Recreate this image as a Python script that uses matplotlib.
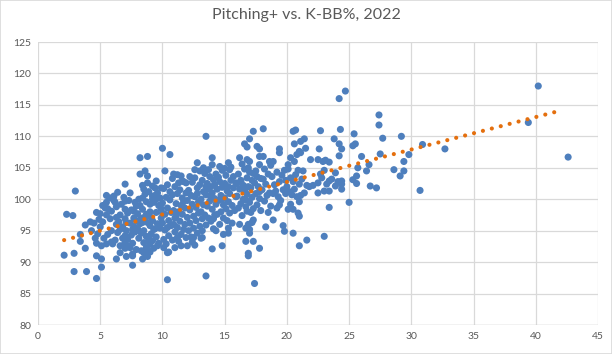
import matplotlib
matplotlib.use("Agg")
import matplotlib.pyplot as plt
from matplotlib.patches import Rectangle

plt.rcParams['font.family'] = ['Lato', 'DejaVu Sans']

# --- data: (K-BB%, Pitching+) ---
outlier_kbb = [2.1, 2.3, 2.8, 3.0, 2.9, 2.9, 3.9, 4.7, 3.4, 3.4, 3.8, 3.8, 4.2, 4.7, 4.7, 5.1, 5.1, 4.6, 4.7, 5.0,
               4.9, 5.5, 5.1, 5.5, 5.9, 5.5, 5.6, 5.4, 6.1, 6.2, 6.4, 6.3, 6.3, 6.3, 6.6, 6.6, 7.0, 7.0, 7.0, 7.1,
               7.0, 7.0, 7.0, 7.4, 7.6, 7.6, 7.6, 7.7, 7.9, 8.2, 8.8, 8.2, 8.4, 8.5, 8.8, 8.8, 8.4, 8.5, 8.7, 8.8,
               9.0, 8.4, 8.7, 9.0, 9.2, 9.5, 9.4, 9.3, 9.2, 10.0, 10.6, 10.1, 10.4, 10.4, 11.0, 11.2, 11.5, 11.6, 11.9, 12.0,
               12.5, 12.6, 12.8, 13.5, 13.5, 14.0, 14.0, 14.0, 14.8, 13.1, 13.2, 14.1, 15.3, 15.4, 15.3, 15.3, 16.2, 16.6, 16.8, 17.0,
               17.3, 18.1, 17.6, 17.8, 16.8, 17.8, 17.8, 18.6, 18.9, 18.1, 19.4, 19.4, 17.3, 16.7, 16.8, 16.9, 17.2, 17.0, 17.0, 16.7,
               17.3, 16.9, 16.9, 17.4, 17.8, 18.9, 19.7, 19.8, 20.5, 20.1, 20.5, 20.9, 21.0, 21.0, 21.6, 19.4, 20.1, 20.3, 20.5, 20.7,
               20.6, 21.1, 21.4, 21.5, 21.1, 20.8, 21.9, 20.9, 21.1, 21.0, 21.8, 22.6, 22.7, 22.5, 22.9, 22.5, 23.0, 23.4, 23.0, 23.4,
               23.8, 24.2, 24.4, 24.2, 24.2, 24.7, 24.3, 23.4, 23.9, 24.4, 24.4, 24.4, 23.4, 25.0, 25.3, 25.5, 25.4, 25.3, 25.6, 25.6,
               25.7, 26.4, 26.6, 26.0, 26.7, 27.2, 27.4, 27.4, 27.7, 27.5, 28.6, 29.1, 29.4, 29.4, 29.8, 29.2, 30.7, 30.9, 32.7, 39.4,
               40.2, 42.6]
outlier_pitch = [91.1, 97.6, 97.4, 101.3, 91.4, 88.5, 88.5, 87.4, 94.4, 93.3, 92.2, 95.9, 96.4, 97.9, 91.0, 90.5, 89.2, 93.8, 93.0, 97.7,
                 96.8, 100.6, 92.6, 92.9, 93.2, 99.5, 98.5, 98.6, 100.5, 99.5, 101.1, 90.5, 97.1, 96.0, 95.2, 92.6, 102.4, 99.7, 98.4, 96.3,
                 94.2, 93.1, 92.2, 92.3, 95.2, 89.5, 91.3, 98.1, 98.9, 106.6, 106.8, 104.0, 100.2, 101.6, 103.7, 102.6, 90.5, 91.5, 92.3, 92.1,
                 92.9, 96.3, 97.6, 99.2, 100.0, 102.9, 101.8, 95.2, 93.4, 108.1, 107.1, 92.3, 91.5, 87.2, 92.3, 103.9, 103.7, 102.9, 102.6, 92.6,
                 93.9, 104.7, 105.8, 110.0, 87.8, 106.6, 105.5, 92.1, 92.6, 93.8, 95.0, 95.3, 105.8, 104.7, 95.4, 94.6, 106.6, 108.8, 108.3, 109.6,
                 110.8, 111.2, 108.4, 108.0, 106.3, 106.8, 105.5, 106.0, 106.0, 106.8, 108.0, 107.4, 104.1, 99.9, 98.1, 96.0, 96.3, 95.2, 94.6, 93.3,
                 93.3, 91.4, 91.0, 86.6, 92.2, 96.7, 95.8, 94.9, 94.6, 98.4, 98.4, 97.8, 97.3, 92.6, 93.5, 99.1, 105.5, 106.6, 110.8, 111.0,
                 108.8, 109.2, 109.6, 108.1, 107.4, 107.1, 106.3, 104.6, 100.6, 99.6, 102.0, 108.0, 110.9, 106.3, 106.0, 102.6, 101.3, 98.7, 94.1, 105.9,
                 109.6, 108.8, 108.0, 106.9, 116.0, 117.2, 111.1, 102.9, 102.1, 102.9, 101.6, 102.4, 101.3, 99.5, 108.5, 108.8, 110.4, 103.1, 103.7, 102.5,
                 105.0, 104.5, 105.5, 106.8, 102.1, 101.8, 113.4, 111.8, 109.7, 107.2, 104.7, 103.7, 104.5, 106.0, 107.1, 110.0, 101.4, 108.7, 108.0, 112.2,
                 118.0, 106.7]

core_kbb = [4.3, 4.5, 4.8, 5.0, 5.2, 5.3, 5.6, 5.8, 5.9, 5.5, 5.2, 5.8, 6.0, 5.9,
            6.2, 6.3, 6.4, 6.5, 6.6, 6.7, 6.8, 6.8, 6.9, 7.0, 7.1, 7.2, 7.2, 7.3, 7.3, 7.4, 7.5, 7.5, 7.6, 7.7,
            7.7, 7.8, 7.8, 7.9, 7.9, 6.1, 6.9, 7.4, 7.6, 6.6, 7.1,
            8.0, 8.0, 8.1, 8.1, 8.2, 8.2, 8.3, 8.3, 8.4, 8.4, 8.5, 8.5, 8.6, 8.6, 8.7, 8.7, 8.8, 8.8, 8.9, 8.9,
            9.0, 9.0, 9.1, 9.1, 9.2, 9.2, 9.3, 9.3, 9.4, 9.4, 9.5, 9.5, 9.6, 9.6, 9.7, 9.7, 9.8, 9.8, 9.9, 9.9,
            9.6, 9.0, 8.6, 9.9, 9.5, 8.3, 9.2,
            10.0, 10.0, 10.1, 10.1, 10.2, 10.2, 10.3, 10.3, 10.4, 10.4, 10.5, 10.5, 10.6, 10.6, 10.7, 10.7, 10.8, 10.8,
            10.9, 10.9, 11.0, 11.0, 11.1, 11.1, 11.2, 11.2, 11.3, 11.3, 11.4, 11.4, 11.5, 11.5, 11.6, 11.6, 11.7, 11.7,
            11.8, 11.8, 11.9, 11.9, 10.2, 10.8, 11.3, 10.5, 11.5, 10.0, 11.0, 11.7, 10.4, 11.2, 10.9,
            12.0, 12.0, 12.1, 12.1, 12.2, 12.2, 12.3, 12.3, 12.4, 12.4, 12.5, 12.5, 12.6, 12.6, 12.7, 12.7, 12.8, 12.8,
            12.9, 12.9, 13.0, 13.0, 13.1, 13.1, 13.2, 13.2, 13.3, 13.3, 13.4, 13.4, 13.5, 13.5, 13.6, 13.6, 13.7, 13.7,
            13.8, 13.8, 13.9, 13.9, 12.4, 13.2, 13.0, 13.7, 12.8, 13.5, 12.2, 13.9, 13.3, 12.6,
            14.0, 14.0, 14.1, 14.1, 14.2, 14.2, 14.3, 14.3, 14.4, 14.4, 14.5, 14.5, 14.6, 14.6, 14.7, 14.7, 14.8, 14.8,
            14.9, 14.9, 15.0, 15.0, 15.1, 15.1, 15.2, 15.2, 15.3, 15.3, 15.4, 15.4, 15.5, 15.6, 15.7, 15.8, 15.9, 15.9,
            14.3, 14.9, 15.6, 14.6, 15.0, 15.5, 14.2, 15.7, 14.8,
            16.0, 16.0, 16.1, 16.1, 16.2, 16.3, 16.3, 16.4, 16.5, 16.5, 16.6, 16.6, 16.7, 16.8, 16.8, 16.9, 17.0, 17.0,
            17.1, 17.1, 17.2, 17.2, 17.3, 17.4, 17.5, 17.5, 17.6, 17.7, 17.8, 17.9, 17.9, 16.2, 16.7, 17.3, 16.4, 17.0,
            17.6, 16.9, 16.3, 17.8,
            18.0, 18.1, 18.2, 18.3, 18.4, 18.5, 18.6, 18.7, 18.8, 18.9, 19.0, 19.1, 19.2, 19.3, 19.4, 19.5, 19.6, 19.7,
            19.8, 19.9, 18.2, 18.7, 19.2, 18.5, 19.9, 18.3,
            20.0, 20.1, 20.2, 20.3, 20.4, 20.5, 20.6, 20.7, 20.8, 21.0, 21.2, 21.4, 20.3, 20.6, 21.3, 21.0, 21.6,
            22.1, 22.5, 22.8, 23.0, 23.2, 23.6, 23.9, 24.1, 23.1, 22.7]
core_pitch = [95.0, 96.2, 94.5, 95.6, 96.4, 93.8, 94.4, 96.9, 98.1, 97.5, 99.0, 100.2, 92.9, 95.0,
              93.5, 98.8, 94.7, 96.4, 97.5, 99.2, 95.6, 93.8, 92.7, 96.9, 95.0, 97.8, 93.6, 99.8, 92.5, 96.2, 94.3, 98.3, 93.0, 95.7,
              97.0, 99.5, 94.8, 92.0, 96.6, 99.8, 100.3, 101.0, 91.0, 91.5, 90.9,
              95.3, 97.7, 93.8, 100.0, 99.0, 96.1, 94.6, 91.8, 98.4, 102.2, 95.0, 93.1, 100.8, 97.2, 94.1, 99.6, 96.3, 90.9, 101.2, 93.7,
              95.8, 98.0, 97.1, 94.5, 102.1, 96.6, 99.5, 92.2, 100.6, 95.3, 97.9, 94.0, 101.0, 96.1, 99.0, 93.0, 100.2, 95.4, 98.5, 97.0,
              92.6, 91.6, 104.5, 101.8, 100.0, 97.0, 100.5,
              96.2, 99.4, 93.6, 101.7, 97.6, 95.1, 100.3, 92.9, 98.6, 102.3, 96.6, 94.2, 99.9, 101.2, 95.8, 97.9, 93.5, 100.7,
              98.2, 96.0, 102.0, 94.8, 99.3, 97.3, 100.9, 95.5, 98.0, 93.3, 101.5, 96.5, 99.0, 94.4, 97.6, 100.2, 95.2, 102.8,
              98.6, 96.0, 101.0, 93.9, 104.5, 103.3, 102.6, 91.6, 92.6, 97.8, 97.0, 99.6, 95.5, 93.9, 104.0,
              97.1, 99.8, 95.0, 101.4, 98.3, 96.2, 100.6, 94.0, 99.2, 102.7, 97.3, 95.4, 100.4, 103.4, 98.7, 96.6, 101.8, 94.6,
              99.6, 97.8, 102.3, 95.7, 100.0, 98.0, 103.0, 96.9, 101.2, 99.1, 97.5, 104.1, 100.7, 95.9, 102.5, 98.9, 101.6, 97.0,
              103.6, 99.7, 96.5, 102.0, 93.2, 93.9, 104.5, 104.7, 100.9, 102.0, 103.6, 100.4, 105.0, 92.7,
              101.0, 98.4, 103.1, 96.9, 100.1, 102.3, 99.2, 104.0, 97.6, 101.6, 103.5, 99.8, 96.0, 102.8, 100.6, 98.0, 104.6, 101.9,
              99.1, 97.0, 102.5, 100.2, 98.5, 103.8, 101.3, 96.6, 99.6, 102.0, 100.9, 97.8, 103.0, 99.0, 101.8, 98.2, 102.6, 100.4,
              95.0, 94.4, 96.2, 105.2, 104.9, 105.1, 97.5, 103.6, 100.0,
              102.5, 100.5, 98.6, 104.0, 101.6, 99.3, 103.0, 97.4, 102.2, 100.0, 104.8, 101.3, 98.8, 103.4, 100.8, 102.0, 99.5, 104.3,
              101.8, 97.9, 103.0, 100.3, 98.5, 102.6, 100.9, 104.5, 99.1, 102.0, 100.1, 103.3, 98.2, 96.0, 95.4, 96.7, 105.6, 106.0,
              103.6, 105.0, 102.8, 101.2,
              101.5, 103.2, 99.7, 102.4, 100.6, 104.0, 101.0, 98.9, 103.6, 100.9, 102.3, 101.3, 104.3, 100.4, 102.8, 99.8, 103.8, 101.5,
              104.6, 100.9, 104.8, 105.4, 98.6, 97.9, 103.0, 95.6,
              102.0, 104.8, 101.2, 103.4, 100.7, 102.8, 101.6, 103.9, 100.4, 102.4, 103.2, 101.0, 99.2, 106.0, 104.5, 107.6, 102.2,
              102.2, 101.0, 103.4, 104.6, 102.4, 103.2, 104.2, 102.8, 106.2, 104.0]

# Linear trendline endpoints (as shown by the chart's trendline)
trend_kbb = [2.1, 42.0]
trend_pitch = [93.5, 114.1]

title = "Pitching+ vs. K-BB%, 2022"
x_ticks = [0, 5, 10, 15, 20, 25, 30, 35, 40, 45]
y_ticks = [80, 85, 90, 95, 100, 105, 110, 115, 120, 125]

# --- figure ---
fig = plt.figure(figsize=(6.12, 3.54), dpi=100)
ax = fig.add_axes([38 / 612, 1 - 325 / 354, (598 - 38) / 612, (325 - 42) / 354])

blue = '#4E7FBD'
orange = '#E46F0E'
grid_c = '#D9D9D9'
text_c = '#595959'

ax.scatter(outlier_kbb + core_kbb, outlier_pitch + core_pitch, s=26, color=blue,
           edgecolors='none', zorder=3)
ax.plot(trend_kbb, trend_pitch, color=orange, linewidth=3.0,
        linestyle=(0, (0.01, 2.2)), dash_capstyle='round', solid_capstyle='round', zorder=4)

ax.set_xlim(0, 45)
ax.set_ylim(80, 125)
ax.set_xticks(x_ticks)
ax.set_yticks(y_ticks)
ax.grid(True, color=grid_c, linewidth=0.9, zorder=0)
ax.set_axisbelow(True)
for s in ax.spines.values():
    s.set_visible(False)
ax.axhline(80, color='#BFBFBF', linewidth=0.9, zorder=1)
ax.tick_params(length=0, labelsize=7.5, colors=text_c, pad=5)

fig.text(0.5, 1 - 15 / 354, title, ha='center', va='center', fontsize=11.5, color=text_c)

fig.patches.append(Rectangle((0, 0), 1, 1, transform=fig.transFigure, fill=False,
                             edgecolor='#D9D9D9', linewidth=1.2))

fig.savefig('out.png', dpi=100)
